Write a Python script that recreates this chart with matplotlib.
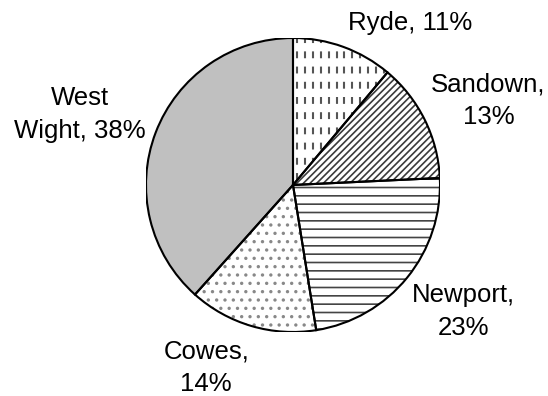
import numpy as np
import matplotlib
matplotlib.use('Agg')
import matplotlib.pyplot as plt
from matplotlib.patches import Wedge

# share of visitors by area
areas = ['Ryde', 'Sandown', 'Newport', 'Cowes', 'West Wight']
shares = [11, 13, 23, 14, 38]
label_text = ['Ryde, 11%', 'Sandown,\n13%', 'Newport,\n23%', 'Cowes,\n14%', 'West\nWight, 38%']

plt.rcParams['font.family'] = ['Liberation Sans', 'DejaVu Sans']
plt.rcParams['hatch.linewidth'] = 1.2

W, H = 548, 396
fig = plt.figure(figsize=(W / 100, H / 100), dpi=100)
cx, cy, r = 293, 211, 147
ax = fig.add_axes([(cx - r) / W, (cy - r) / H, 2 * r / W, 2 * r / H])

wedges, _ = ax.pie(shares, startangle=90, counterclock=False, radius=1.0,
                   wedgeprops=dict(linewidth=0))

hatches = [None, '/////', '--', '..', None]
faces = ['white', 'white', 'white', 'white', '#c0c0c0']
hatch_cols = ['white', '#3a3a3a', '#444444', '#888888', '#c0c0c0']
for w, h, fc, hc in zip(wedges, hatches, faces, hatch_cols):
    w.set_facecolor(fc)
    w.set_edgecolor(hc)
    if h:
        w.set_hatch(h)

# dashed vertical pattern for the first wedge
xs = np.arange(-1, 1, 0.054)
vl = ax.vlines(xs, -1, 1, colors='#555555', linewidth=1.5,
               linestyles=(0, (3.3, 4.0)), zorder=0.5)
vl.set_clip_path(wedges[0])
wedges[0].set_zorder(0.4)

# black outlines on top
for w in wedges:
    ax.add_patch(Wedge(w.center, w.r, w.theta1, w.theta2, fill=False,
                       edgecolor='black', linewidth=1.5, zorder=3))

label_pos = [(0.80, 1.10), (1.33, 0.57), (1.16, -0.86), (-0.59, -1.24), (-1.45, 0.48)]
for (x, y), t in zip(label_pos, label_text):
    ax.text(x, y, t, ha='center', va='center', fontsize=18.5, linespacing=1.45,
            clip_on=False)

ax.set_xlim(-1, 1)
ax.set_ylim(-1, 1)
ax.set_aspect('equal')
ax.axis('off')

fig.savefig('out.png', dpi=100)
